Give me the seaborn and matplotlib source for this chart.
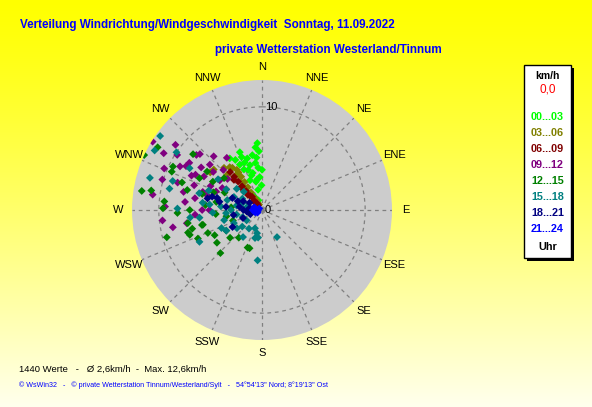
import numpy as np
import pandas as pd
import seaborn as sns
import matplotlib.pyplot as plt
from matplotlib.patches import Rectangle

# wind direction (deg, clockwise from N) and speed (km/h), per time-of-day group
dir_00_03 = [356, 354, 339, 328, 339, 340, 345, 354, 355, 0, 341, 346, 356, 359, 349, 338, 334, 332, 350, 340, 330, 343, 352, 336, 348, 357, 344, 351]
spd_00_03 = [6.5, 6.1, 6.0, 5.9, 5.5, 4.9, 4.5, 5.1, 4.1, 3.9, 4.1, 3.7, 3.2, 2.4, 2.0, 3.1, 4.9, 5.5, 5.4, 1.0, 1.5, 3.5, 4.6, 4.3, 2.8, 5.7, 5.2, 3.0]

dir_03_06 = [328, 328, 328, 328, 328, 328, 328, 328, 323, 323, 323, 323, 323, 323, 323, 315, 310, 306, 318, 325, 330, 332, 320]
spd_03_06 = [0.8, 1.4, 2.0, 2.6, 3.2, 3.8, 4.3, 4.6, 1.0, 1.8, 2.6, 3.4, 4.2, 5.0, 5.2, 4.8, 6.1, 6.2, 5.5, 5.0, 1.1, 0.6, 4.2]

dir_06_09 = [320, 320, 320, 320, 320, 320, 320, 320, 317, 317, 317, 317, 323, 323]
spd_06_09 = [0.6, 1.2, 1.8, 2.4, 3.0, 3.6, 4.2, 4.8, 1.0, 2.0, 3.0, 4.0, 0.8, 1.6]

dir_09_12 = [302, 300, 293, 287, 298, 303, 312, 278, 272, 264, 259, 270, 311, 326, 310, 316, 287, 299, 270, 260,
             295, 300, 305, 290, 285, 305, 300, 292, 308, 296, 283, 312, 318, 288, 280, 276, 266, 303, 307, 300, 298]
spd_09_12 = [12.5, 11.0, 10.3, 10.1, 9.0, 8.4, 8.1, 10.7, 9.4, 9.7, 8.8, 5.8, 6.7, 6.1, 8.3, 5.4, 6.0, 4.4, 5.1, 7.4,
             5.5, 6.5, 5.0, 7.0, 5.5, 7.2, 4.0, 4.8, 6.0, 7.6, 7.8, 4.5, 7.0, 8.6, 6.6, 7.5, 6.5, 9.8, 10.5, 8.5, 7.3]

dir_12_15 = [295, 301, 309, 296, 293, 289, 279, 280, 275, 271, 268, 254, 260, 253, 255, 256, 246, 251, 224, 234, 247, 201, 256, 242, 229, 198,
             285, 290, 280, 275, 295, 265, 260, 300, 305, 285, 270, 240, 250, 220, 275, 310, 297]
spd_12_15 = [12.6, 11.8, 8.6, 9.6, 9.5, 8.2, 11.8, 10.9, 9.5, 9.6, 8.2, 9.6, 7.3, 7.5, 7.0, 6.0, 6.8, 7.4, 5.8, 5.4, 5.7, 3.9, 5.9, 5.2, 4.1, 3.9,
             6.0, 5.0, 4.5, 5.5, 4.0, 4.5, 3.5, 5.5, 6.5, 7.5, 7.0, 4.0, 3.0, 3.5, 3.0, 4.8, 6.8]

dir_15_18 = [306, 299, 304, 286, 300, 288, 283, 271, 264, 263, 267, 236, 234, 201, 246, 276, 286, 192, 151, 188, 243,
             290, 280, 270, 260, 250, 295, 300, 285, 275, 265, 255, 245, 280, 300, 310, 290, 270, 260, 230, 215, 240, 305, 315, 285, 277, 185, 194, 215]
spd_15_18 = [12.2, 11.9, 10.0, 11.3, 8.1, 9.1, 9.2, 8.2, 7.0, 6.1, 4.8, 1.8, 3.0, 1.9, 4.3, 5.1, 3.5, 2.3, 3.0, 2.7, 6.8,
             2.0, 2.5, 3.0, 2.5, 2.0, 3.0, 4.0, 4.5, 4.0, 3.5, 3.8, 3.0, 1.5, 2.2, 3.2, 5.5, 1.2, 1.0, 2.5, 2.2, 4.0, 5.2, 2.5, 6.3, 5.8, 4.9, 2.8, 3.2]

dir_18_21 = [292, 247, 270, 280, 281, 282, 240, 285, 270, 300, 290, 275, 260, 285, 295, 265, 250, 278]
spd_18_21 = [3.1, 2.0, 0.7, 1.2, 4.2, 5.4, 3.3, 5.0, 1.8, 1.4, 2.5, 3.5, 2.8, 4.5, 2.0, 1.5, 1.2, 2.2]

dir_21_24 = [260, 280, 300, 240, 270, 290, 250]
spd_21_24 = [0.4, 0.6, 0.3, 0.5, 0.9, 0.8, 0.7]

groups = ["00...03", "03...06", "06...09", "09...12", "12...15", "15...18", "18...21", "21...24"]
group_colors = ["#00ff00", "#808000", "#800000", "#800080", "#008000", "#008080", "#000080", "#0000ff"]
compass = ["N", "NNE", "NE", "ENE", "E", "ESE", "SE", "SSE",
           "S", "SSW", "SW", "WSW", "W", "WNW", "NW", "NNW"]

dirs = [dir_00_03, dir_03_06, dir_06_09, dir_09_12, dir_12_15, dir_15_18, dir_18_21, dir_21_24]
spds = [spd_00_03, spd_03_06, spd_06_09, spd_09_12, spd_12_15, spd_15_18, spd_18_21, spd_21_24]
df = pd.concat([pd.DataFrame({"dir": d, "spd": s, "group": g}) for d, s, g in zip(dirs, spds, groups)],
               ignore_index=True)
df["theta"] = np.radians(df["dir"])

W, H = 592, 407
fig = plt.figure(figsize=(W / 100, H / 100), dpi=100)

# yellow -> pale background
bg = fig.add_axes([0, 0, 1, 1])
bg.axis("off")
t = np.linspace(0, 1, 256)[:, None]
img = np.dstack([np.ones_like(t), np.ones_like(t), 0.93 * t ** 1.2])
bg.imshow(img, aspect="auto", extent=[0, 1, 0, 1])

cx, cy, rad = 262, 210, 130
ax = fig.add_axes([(cx - rad) / W, (H - cy - rad) / H, 2 * rad / W, 2 * rad / H], projection="polar")
ax.set_facecolor("#cccccc")
ax.set_theta_zero_location("N")
ax.set_theta_direction(-1)

sns.scatterplot(data=df, x="theta", y="spd", hue="group", hue_order=groups,
                palette=dict(zip(groups, group_colors)), marker="D", s=16,
                linewidth=0, legend=False, ax=ax, zorder=3)

ax.set_ylim(0, 12.6)
ax.set_thetagrids(np.arange(0, 360, 22.5), labels=[""] * 16)
ax.set_rgrids([10], labels=[""])
ax.grid(color="#808080", linestyle=(0, (3, 3)), linewidth=0.9)
ax.spines["polar"].set_visible(False)
ax.set_xlabel("")
ax.set_ylabel("")

font = "Liberation Sans"
for i, name in enumerate(compass):
    ax.text(np.radians(i * 22.5), 13.9, name, ha="center", va="center",
            fontsize=8, family=font, clip_on=False)
ax.annotate("10", xy=(0, 10), xytext=(2, 0), textcoords="offset points",
            ha="left", va="center", fontsize=8, family=font)
ax.annotate("0", xy=(0, 0), xytext=(2, 0), textcoords="offset points",
            ha="left", va="center", fontsize=8, family=font)

fig.text(20 / W, 1 - 25 / H, "Verteilung Windrichtung/Windgeschwindigkeit  Sonntag, 11.09.2022",
         color="#0000ff", fontsize=8.4, fontweight="bold", family=font, va="center")
fig.text(215 / W, 1 - 50 / H, "private Wetterstation Westerland/Tinnum",
         color="#0000ff", fontsize=8.4, fontweight="bold", family=font, va="center")
fig.text(19 / W, 1 - 369 / H, "1440 Werte   -   Ø 2,6km/h  -  Max. 12,6km/h",
         color="black", fontsize=6.8, family=font, va="center")
fig.text(19 / W, 1 - 385 / H,
         "© WsWin32   -   © private Wetterstation Tinnum/Westerland/Sylt   -   54°54'13\" Nord; 8°19'13\" Ost",
         color="#0000ff", fontsize=5.15, family=font, va="center")

# legend box
x0, y0, x1, y1 = 524, 65, 571, 258
fig.patches.append(Rectangle(((x0 + 3) / W, 1 - (y1 + 3) / H), (x1 - x0) / W, (y1 - y0) / H,
                             transform=fig.transFigure, facecolor="black", edgecolor="none"))
fig.patches.append(Rectangle((x0 / W, 1 - y1 / H), (x1 - x0) / W, (y1 - y0) / H,
                             transform=fig.transFigure, facecolor="white", edgecolor="black", linewidth=1))
lx = (x0 + x1) / 2 / W
fig.text(lx, 1 - 76 / H, "km/h", ha="center", va="center", fontsize=7.5, fontweight="bold", family=font)
fig.text(lx, 1 - 90 / H, "0,0", ha="center", va="center", fontsize=8.5, color="#ff0000", family=font)
for k, (g, c) in enumerate(zip(groups, group_colors)):
    fig.text(lx, 1 - (117 + k * 16) / H, g, ha="center", va="center", fontsize=7.8,
             fontweight="bold", color=c, family=font)
fig.text(lx, 1 - 247 / H, "Uhr", ha="center", va="center", fontsize=7.8, fontweight="bold", family=font)

fig.savefig("out.png", dpi=100)
